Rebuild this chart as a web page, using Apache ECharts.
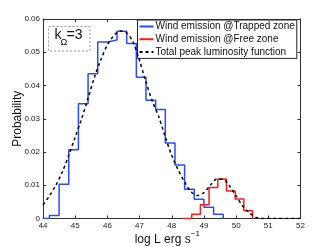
<!DOCTYPE html>
<html>
<head>
<meta charset="utf-8">
<script src="https://cdn.jsdelivr.net/npm/echarts@6/dist/echarts.min.js"></script>
<style>html,body{margin:0;padding:0;background:#fff;}#c{width:332px;height:247px;}</style>
</head>
<body>
<div id="c"></div>
<script>
// Data
const xTicks = [44, 45, 46, 47, 48, 49, 50, 51, 52];
const yTicks = [0, 0.01, 0.02, 0.03, 0.04, 0.05, 0.06];

const trappedEdges = [44.0, 44.2, 44.5, 44.8, 45.1, 45.4, 45.7, 46.0, 46.3, 46.6, 46.9, 47.2, 47.5, 47.8, 48.1, 48.4, 48.7, 49.0, 49.3, 49.6];
const trappedValues = [0, 0.0009, 0.0103, 0.0207, 0.0345, 0.0435, 0.0531, 0.0537, 0.0563, 0.0526, 0.0425, 0.0356, 0.0328, 0.0227, 0.0161, 0.0088, 0.0058, 0.0034, 0.0013, 0];

const freeEdges = [48.35, 48.62, 48.89, 49.16, 49.43, 49.70, 49.97, 50.24, 50.51];
const freeValues = [0, 0.0013, 0.0041, 0.0093, 0.0119, 0.0083, 0.0059, 0.0023, 0];

const totalX = [44.0, 44.2, 44.4, 44.6, 44.8, 45.0, 45.2, 45.4, 45.6, 45.8, 46.0, 46.2, 46.4, 46.6, 46.8, 47.0, 47.2, 47.4, 47.6, 47.8, 48.0, 48.2, 48.4, 48.6, 48.8, 49.0, 49.2, 49.4, 49.6, 49.8, 50.0, 50.2, 50.4, 50.6, 50.8, 52.0];
const totalY = [0.0041, 0.0068, 0.0100, 0.0140, 0.0190, 0.0245, 0.0300, 0.0362, 0.0425, 0.0478, 0.0522, 0.0550, 0.0564, 0.0558, 0.0530, 0.0475, 0.0410, 0.0352, 0.0305, 0.0245, 0.0190, 0.0146, 0.0110, 0.0080, 0.0069, 0.0078, 0.0100, 0.0119, 0.0118, 0.0097, 0.0068, 0.0038, 0.0018, 0.0004, 0.0, 0.0];

const names = ['Wind emission @Trapped zone', 'Wind emission @Free zone', 'Total peak luminosity function'];

const zip = (a, b) => a.map((v, i) => [v, b[i]]);

const chart = echarts.init(document.getElementById('c'), null, {renderer: 'canvas'});
const axisCol = '#333';
const font = 'Liberation Sans, Arial, Helvetica, sans-serif';

const xBase = {
  type: 'value', min: xTicks[0], max: xTicks[xTicks.length - 1], interval: 1,
  axisLine: {onZero: false, lineStyle: {color: axisCol, width: 1}},
  axisTick: {inside: true, length: 3, lineStyle: {color: axisCol}},
  splitLine: {show: false}
};
const yBase = {
  type: 'value', min: yTicks[0], max: yTicks[yTicks.length - 1], interval: 0.01,
  axisLine: {show: true, onZero: false, lineStyle: {color: axisCol, width: 1}},
  axisTick: {show: true, inside: true, length: 3, lineStyle: {color: axisCol}},
  splitLine: {show: false}
};

chart.setOption({
  animation: false,
  backgroundColor: '#fff',
  grid: {left: 43, right: 31.5, top: 19, bottom: 28.5, containLabel: false, outerBoundsMode: 'none'},
  xAxis: [
    Object.assign({}, xBase, {
      position: 'bottom',
      axisLabel: {color: '#222', fontSize: 8, fontFamily: font, margin: 3},
      name: '{a|log L erg s}{b|−1}',
      nameLocation: 'middle', nameGap: 11, nameMoveOverlap: false,
      nameTextStyle: {
        fontFamily: font, color: '#111', padding: [0, 9, 0, 0],
        rich: {
          a: {fontSize: 12, lineHeight: 16, verticalAlign: 'bottom', fontFamily: font, color: '#111'},
          b: {fontSize: 8, lineHeight: 6, verticalAlign: 'top', fontFamily: font, color: '#111'}
        }
      }
    }),
    Object.assign({}, xBase, {position: 'top', axisLabel: {show: false}})
  ],
  yAxis: [
    Object.assign({}, yBase, {
      position: 'left',
      axisLabel: {color: '#222', fontSize: 8, fontFamily: font, margin: 3},
      name: 'Probability', nameLocation: 'middle', nameGap: 19, nameMoveOverlap: false,
      nameTextStyle: {fontSize: 12, fontFamily: font, color: '#111', lineHeight: 12}
    }),
    Object.assign({}, yBase, {position: 'right', axisLabel: {show: false}})
  ],
  legend: {
    orient: 'vertical', left: 137.5, top: 20,
    data: names,
    itemWidth: 14, itemHeight: 8, itemGap: 0.7,
    padding: [0.5, 2, 0.5, 1],
    backgroundColor: '#fff', borderColor: '#222', borderWidth: 1, borderRadius: 0,
    selectedMode: false,
    itemStyle: {opacity: 0},
    textStyle: {fontSize: 10, fontFamily: font, color: '#111', lineHeight: 12, padding: [0, 0, 0, -3]}
  },
  graphic: [
    {type: 'rect', shape: {x: 48.5, y: 26.5, width: 41.5, height: 24.5},
     style: {fill: 'none', stroke: '#999', lineWidth: 1, lineDash: [2, 2]}, z: 10},
    {type: 'text', x: 54.5, y: 35, style: {text: 'k', fontSize: 14, fontFamily: font, fill: '#111', verticalAlign: 'middle', align: 'left'}, z: 10},
    {type: 'text', x: 60.5, y: 43, style: {text: 'Ω', fontSize: 9, fontFamily: font, fill: '#111', verticalAlign: 'middle', align: 'left'}, z: 10},
    {type: 'text', x: 66.5, y: 35, style: {text: '=3', fontSize: 14, fontFamily: font, fill: '#111', verticalAlign: 'middle', align: 'left'}, z: 10}
  ],
  series: [
    {name: names[0], type: 'line', step: 'end', data: zip(trappedEdges, trappedValues),
     showSymbol: false, symbol: 'none', lineStyle: {color: '#2a4bff', width: 1.5}, itemStyle: {color: '#2a4bff'}, z: 2},
    {name: names[1], type: 'line', step: 'end', data: zip(freeEdges, freeValues),
     showSymbol: false, symbol: 'none', lineStyle: {color: '#ff1a1a', width: 1.5}, itemStyle: {color: '#ff1a1a'}, z: 3},
    {name: names[2], type: 'line', data: zip(totalX, totalY), smooth: 0.3,
     showSymbol: false, symbol: 'none', lineStyle: {color: '#000', width: 1.5, type: [3, 3]}, itemStyle: {color: '#000'}, z: 4}
  ]
});
</script>
</body>
</html>
